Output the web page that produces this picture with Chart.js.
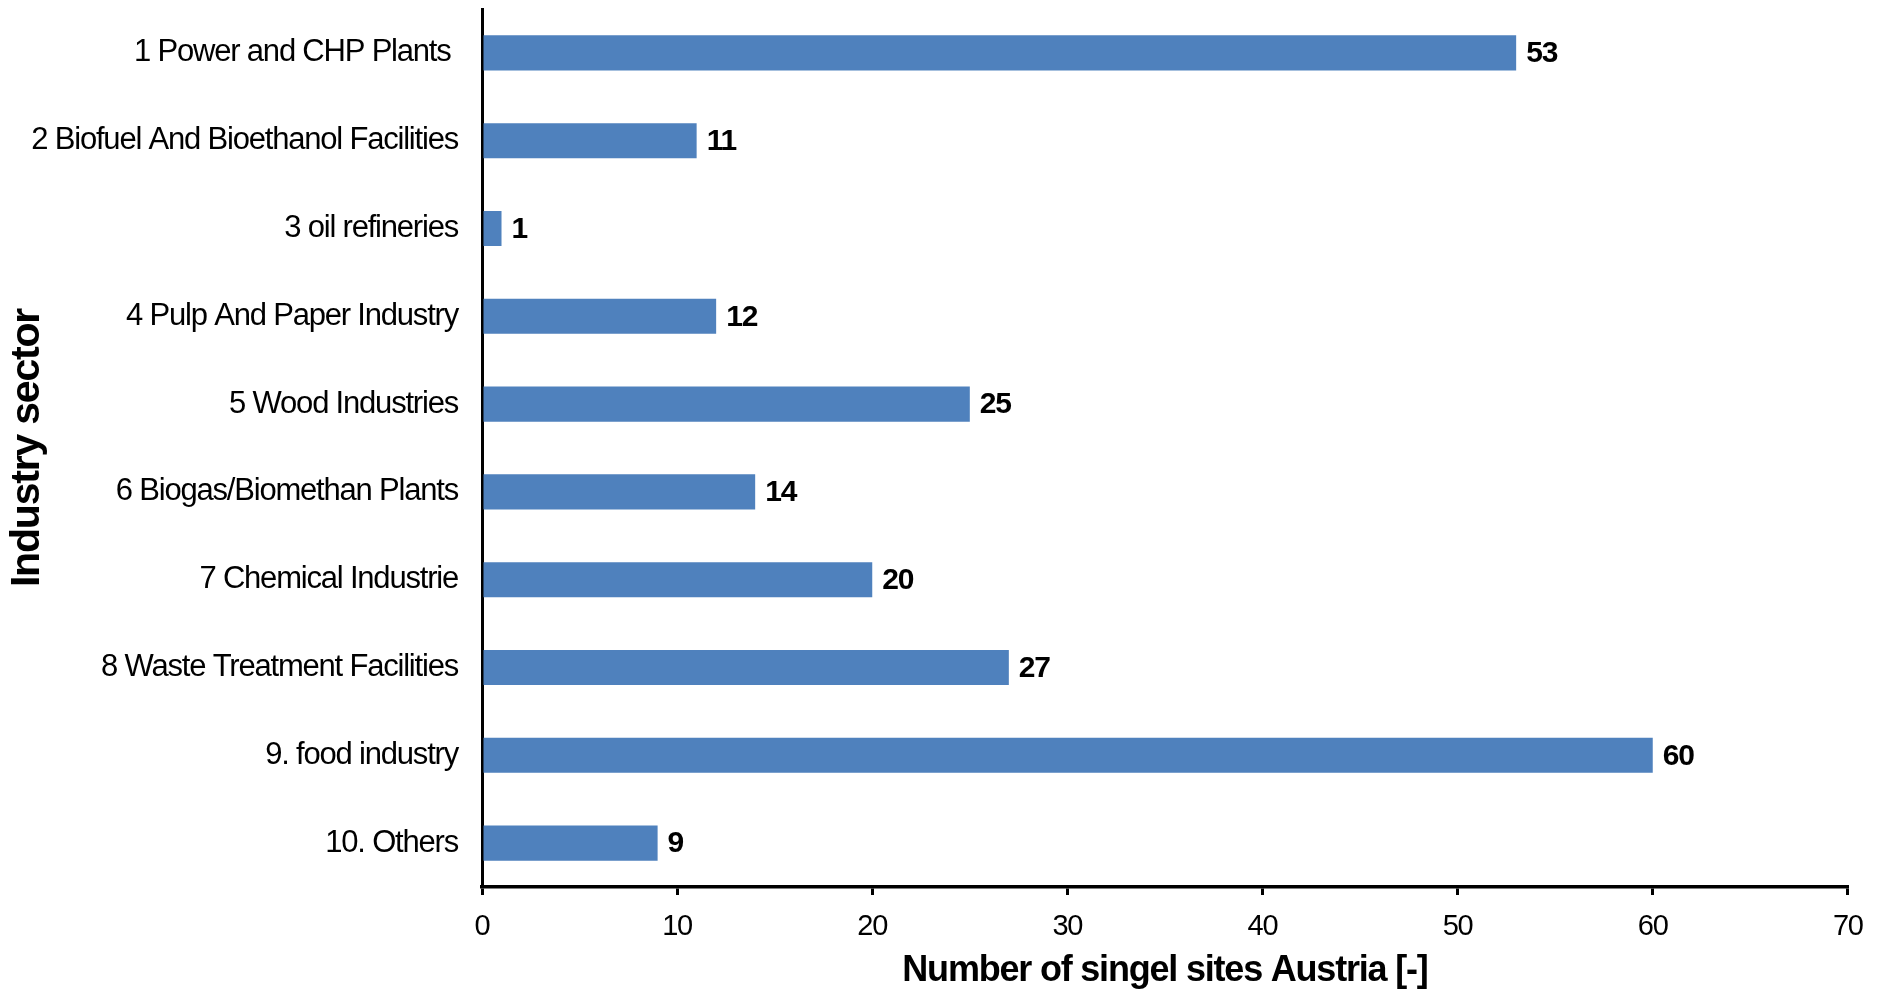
<!DOCTYPE html>
<html>
<head>
<meta charset="utf-8">
<script src="https://cdn.jsdelivr.net/npm/chart.js@4.4.1/dist/chart.umd.min.js"></script>
<style>
  html, body { margin: 0; padding: 0; background: #fff; }
  #wrap { width: 1879px; height: 991px; position: relative; }
</style>
</head>
<body>
<div id="wrap"><canvas id="c" width="1879" height="991"></canvas></div>
<script>
// ---- data ----
const categories = [
  "1 Power and CHP Plants ",
  "2 Biofuel And Bioethanol Facilities",
  "3 oil refineries",
  "4 Pulp And Paper Industry",
  "5 Wood Industries",
  "6 Biogas/Biomethan Plants",
  "7 Chemical Industrie",
  "8 Waste Treatment Facilities",
  "9. food industry",
  "10. Others"
];
const siteCounts = [53, 11, 1, 12, 25, 14, 20, 27, 60, 9];
const xTickValues = [0, 10, 20, 30, 40, 50, 60, 70];
const xAxisTitle = "Number of singel sites Austria [-]";
const yAxisTitle = "Industry sector";

const FONT = '"Liberation Sans", Arial, sans-serif';
const SPACING = '-1.2px';

// condensed look (narrow font not installed): tighten letter spacing
const narrowText = {
  id: 'narrowText',
  beforeDraw(chart) { try { chart.ctx.letterSpacing = SPACING; } catch (e) {} }
};

const valueLabels = {
  id: 'valueLabels',
  afterDatasetsDraw(chart) {
    const ctx = chart.ctx;
    const meta = chart.getDatasetMeta(0);
    ctx.save();
    ctx.fillStyle = '#000';
    ctx.font = 'bold 30px ' + FONT;
    ctx.textAlign = 'left';
    ctx.textBaseline = 'middle';
    meta.data.forEach((bar, i) => {
      ctx.fillText(String(chart.data.datasets[0].data[i]), bar.x + 10, bar.y + 1);
    });
    ctx.restore();
  }
};

new Chart(document.getElementById('c'), {
  type: 'bar',
  data: {
    labels: categories,
    datasets: [{
      data: siteCounts,
      backgroundColor: '#4F81BD',
      borderWidth: 0,
      barPercentage: 0.4,
      categoryPercentage: 1.0
    }]
  },
  options: {
    indexAxis: 'y',
    responsive: false,
    animation: false,
    devicePixelRatio: 1,
    layout: { padding: { top: 9, right: 30, bottom: 0, left: 0 } },
    plugins: { legend: { display: false }, tooltip: { enabled: false } },
    scales: {
      x: {
        type: 'linear',
        min: xTickValues[0],
        max: xTickValues[xTickValues.length - 1],
        afterBuildTicks(scale) { scale.ticks = xTickValues.map(v => ({ value: v })); },
        afterFit(scale) { scale.height = 104; },
        border: { display: true, color: '#000', width: 3.5 },
        grid: { drawOnChartArea: false, drawTicks: true, tickLength: 8, color: '#000', lineWidth: 3 },
        ticks: { color: '#000', padding: 15, font: { family: FONT, size: 29 } },
        title: {
          display: true, text: xAxisTitle, color: '#000',
          padding: { top: 0, bottom: 0 },
          font: { family: FONT, size: 36, weight: 'bold', lineHeight: 1.1 }
        }
      },
      y: {
        afterFit(scale) { scale.width = 482; scale.paddingTop = 0; scale.paddingBottom = 0; },
        border: { display: true, color: '#000', width: 3 },
        grid: { drawOnChartArea: false, drawTicks: false },
        ticks: { color: '#000', padding: 24, font: { family: FONT, size: 31 } },
        title: {
          display: true, text: yAxisTitle, color: '#000',
          padding: { top: 3, bottom: 0 },
          font: { family: FONT, size: 41, weight: 'bold' }
        }
      }
    }
  },
  plugins: [narrowText, valueLabels]
});
</script>
</body>
</html>
